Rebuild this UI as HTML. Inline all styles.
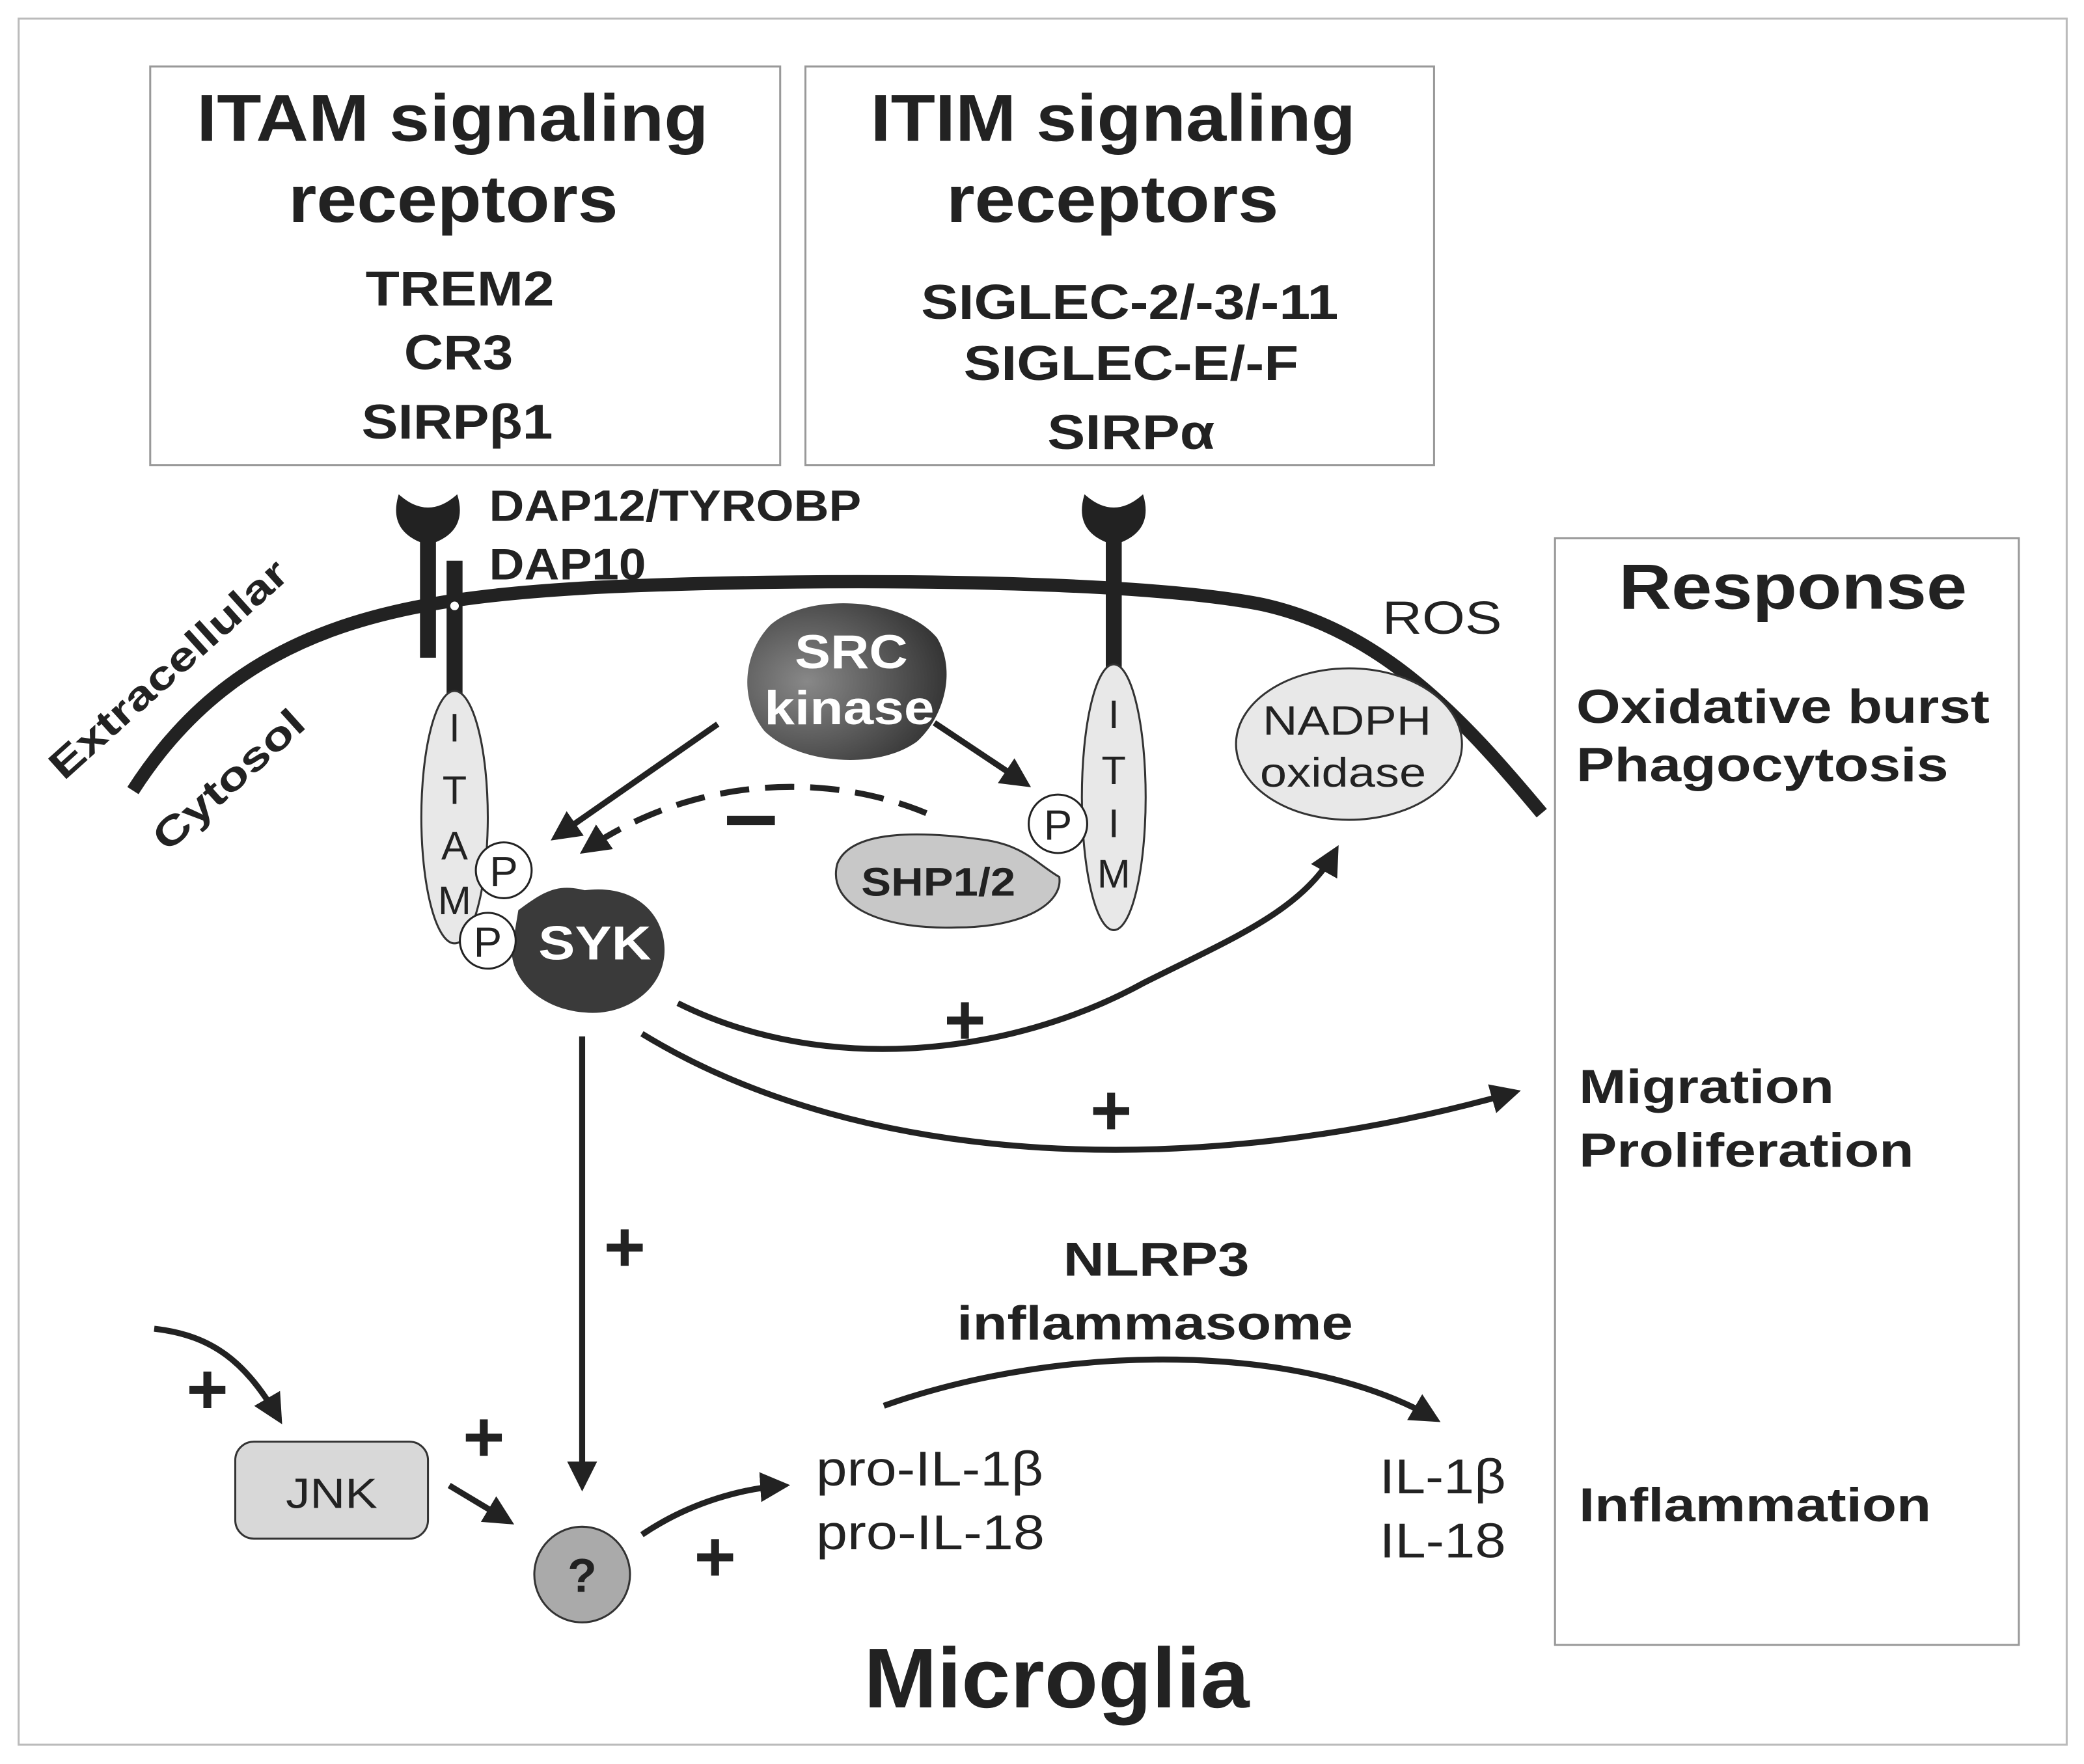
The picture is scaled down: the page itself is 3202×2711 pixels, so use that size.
<!DOCTYPE html>
<html><head><meta charset="utf-8"><style>html,body{margin:0;padding:0;background:#fff}svg{display:block}text{font-family:"Liberation Sans",sans-serif;fill:#222}</style></head><body>
<svg width="3202" height="2711" viewBox="0 0 1568 1327.6" xmlns="http://www.w3.org/2000/svg">
<defs>
<marker id="a" viewBox="0 0 10 10" refX="8" refY="5" markerWidth="5" markerHeight="5" orient="auto"><path d="M0,0 L10,5 L0,10 z" fill="#222"/></marker>
<radialGradient id="g" cx="0.3" cy="0.5" r="0.8"><stop offset="0" stop-color="#888"/><stop offset="1" stop-color="#2a2a2a"/></radialGradient>
</defs>
<rect x="14" y="14" width="1541" height="1299" fill="#fff" stroke="#bbb" stroke-width="1.5"/>
<rect x="113" y="50" width="474" height="300" fill="#fff" stroke="#999" stroke-width="1.5"/>
<rect x="606" y="50" width="473" height="300" fill="#fff" stroke="#999" stroke-width="1.5"/>
<rect x="1170" y="405" width="349" height="833" fill="#fff" stroke="#999" stroke-width="1.5"/>
<g font-weight="bold">
<text x="148" y="106" font-size="50" textLength="385" lengthAdjust="spacingAndGlyphs">ITAM signaling</text>
<text x="217" y="167" font-size="50" textLength="248" lengthAdjust="spacingAndGlyphs">receptors</text>
<text x="275" y="230" font-size="37" textLength="142" lengthAdjust="spacingAndGlyphs">TREM2</text>
<text x="304" y="278" font-size="37" textLength="82" lengthAdjust="spacingAndGlyphs">CR3</text>
<text x="272" y="330" font-size="37" textLength="144" lengthAdjust="spacingAndGlyphs">SIRPβ1</text>
<text x="655" y="106" font-size="50" textLength="365" lengthAdjust="spacingAndGlyphs">ITIM signaling</text>
<text x="712" y="167" font-size="50" textLength="250" lengthAdjust="spacingAndGlyphs">receptors</text>
<text x="693" y="240" font-size="37" textLength="314" lengthAdjust="spacingAndGlyphs">SIGLEC-2/-3/-11</text>
<text x="725" y="286" font-size="37" textLength="252" lengthAdjust="spacingAndGlyphs">SIGLEC-E/-F</text>
<text x="788" y="338" font-size="37" textLength="126" lengthAdjust="spacingAndGlyphs">SIRPα</text>
<text x="1218" y="458" font-size="48" textLength="262" lengthAdjust="spacingAndGlyphs">Response</text>
<text x="1186" y="544" font-size="36" textLength="311" lengthAdjust="spacingAndGlyphs">Oxidative burst</text>
<text x="1186" y="588" font-size="36" textLength="280" lengthAdjust="spacingAndGlyphs">Phagocytosis</text>
<text x="1188" y="830" font-size="36" textLength="192" lengthAdjust="spacingAndGlyphs">Migration</text>
<text x="1188" y="878" font-size="36" textLength="252" lengthAdjust="spacingAndGlyphs">Proliferation</text>
<text x="1188" y="1145" font-size="36" textLength="265" lengthAdjust="spacingAndGlyphs">Inflammation</text>
<text x="650" y="1285" font-size="64" textLength="290" lengthAdjust="spacingAndGlyphs">Microglia</text>
<text x="368" y="392" font-size="33" textLength="280" lengthAdjust="spacingAndGlyphs">DAP12/TYROBP</text>
<text x="368" y="436" font-size="33" textLength="118" lengthAdjust="spacingAndGlyphs">DAP10</text>
<text x="800" y="960" font-size="36" textLength="140" lengthAdjust="spacingAndGlyphs">NLRP3</text>
<text x="720" y="1008" font-size="36" textLength="298" lengthAdjust="spacingAndGlyphs">inflammasome</text>
</g>
<!-- membrane -->
<path d="M100,595 C180,470 300,450 450,442 C600,435 850,435 950,455 C1040,475 1100,540 1160,612" fill="none" stroke="#222" stroke-width="10"/>
<text transform="translate(48,588) rotate(-42)" font-size="30" font-weight="bold" textLength="230" lengthAdjust="spacingAndGlyphs">Extracellular</text>
<text transform="translate(126,642) rotate(-42)" font-size="30" font-weight="bold" textLength="142" lengthAdjust="spacingAndGlyphs">Cytosol</text>
<!-- ITAM receptor -->
<path d="M300,372 Q322,392 344,372 Q352,398 328,408 L316,408 Q292,398 300,372z" fill="#222"/>
<rect x="316" y="400" width="12" height="95" fill="#222"/>
<rect x="336" y="422" width="12" height="105" fill="#222"/>
<circle cx="342" cy="456" r="4" fill="#fff" stroke="#222" stroke-width="1.5"/>
<ellipse cx="342" cy="615" rx="25" ry="95" fill="#e8e8e8" stroke="#333" stroke-width="1.5"/>
<g font-size="30" text-anchor="middle"><text x="342" y="558">I</text><text x="342" y="605">T</text><text x="342" y="647">A</text><text x="342" y="688">M</text></g>
<!-- ITIM receptor -->
<path d="M816,372 Q838,392 860,372 Q868,398 844,408 L832,408 Q808,398 816,372z" fill="#222"/>
<rect x="832" y="400" width="12" height="108" fill="#222"/>
<ellipse cx="838" cy="600" rx="24" ry="100" fill="#e8e8e8" stroke="#333" stroke-width="1.5"/>
<g font-size="30" text-anchor="middle"><text x="838" y="548">I</text><text x="838" y="590">T</text><text x="838" y="630">I</text><text x="838" y="668">M</text></g>
<!-- SRC -->
<path d="M580,470 C610,445 680,450 705,480 C720,505 710,540 690,558 C660,580 600,575 575,550 C555,525 560,490 580,470z" fill="url(#g)"/>
<text x="598" y="503" font-size="36" font-weight="bold" textLength="85" lengthAdjust="spacingAndGlyphs" style="fill:#fff">SRC</text>
<text x="575" y="545" font-size="36" font-weight="bold" textLength="128" lengthAdjust="spacingAndGlyphs" style="fill:#fff">kinase</text>
<!-- SHP -->
<path d="M630,650 C640,625 690,625 740,632 C770,636 780,650 797,660 C800,680 770,698 720,698 C660,700 622,680 630,650z" fill="#c8c8c8" stroke="#333" stroke-width="1.5"/>
<text x="648" y="674" font-size="30" font-weight="bold" textLength="116" lengthAdjust="spacingAndGlyphs">SHP1/2</text>
<!-- SYK -->
<path d="M390,685 C410,670 420,665 440,670 C480,665 500,690 500,715 C500,745 470,765 440,762 C410,760 385,740 385,715z" fill="#3a3a3a"/>
<text x="405" y="722" font-size="36" font-weight="bold" textLength="85" lengthAdjust="spacingAndGlyphs" style="fill:#fff">SYK</text>
<g fill="#fff" stroke="#222" stroke-width="1.5"><circle cx="379" cy="655" r="21"/><circle cx="367" cy="708" r="21"/><circle cx="796" cy="620" r="22"/></g>
<g font-size="32" text-anchor="middle"><text x="379" y="667">P</text><text x="367" y="720">P</text><text x="796" y="632">P</text></g>
<!-- arrows -->
<g fill="none" stroke="#222" stroke-width="4.5" marker-end="url(#a)">
<line x1="540" y1="545" x2="418" y2="630"/>
<line x1="703" y1="544" x2="772" y2="590"/>
<path d="M697,612 C620,580 520,585 440,640" stroke-dasharray="22,12"/>
<path d="M510,755 C620,810 760,795 860,740 C930,705 980,685 1005,640"/>
<path d="M483,778 C650,880 900,890 1140,822"/>
<line x1="438" y1="780" x2="438" y2="1118"/>
<path d="M116,1000 C160,1005 185,1025 210,1068"/>
<line x1="338" y1="1118" x2="383" y2="1145"/>
<path d="M483,1155 C520,1130 560,1120 590,1118"/>
<path d="M665,1058 C800,1010 980,1010 1080,1068"/>
</g>
<rect x="547" y="614" width="36" height="7" fill="#222"/>
<g font-size="54" font-weight="bold" text-anchor="middle">
<text x="726" y="786">+</text><text x="836" y="854">+</text><text x="470" y="957">+</text>
<text x="156" y="1064">+</text><text x="364" y="1100">+</text><text x="538" y="1190">+</text>
</g>
<!-- NADPH -->
<ellipse cx="1015" cy="560" rx="85" ry="57" fill="#e8e8e8" stroke="#333" stroke-width="1.5"/>
<text x="950" y="553" font-size="31" textLength="127" lengthAdjust="spacingAndGlyphs">NADPH</text>
<text x="948" y="592" font-size="31" textLength="125" lengthAdjust="spacingAndGlyphs">oxidase</text>
<text x="1040" y="477" font-size="35" textLength="90" lengthAdjust="spacingAndGlyphs">ROS</text>
<!-- JNK -->
<rect x="177" y="1085" width="145" height="73" rx="14" fill="#d8d8d8" stroke="#333" stroke-width="1.5"/>
<text x="215" y="1135" font-size="32" textLength="69" lengthAdjust="spacingAndGlyphs">JNK</text>
<circle cx="438" cy="1185" r="36" fill="#aaa" stroke="#333" stroke-width="1.5"/>
<text x="438" y="1198" font-size="36" font-weight="bold" text-anchor="middle">?</text>
<g font-size="37">
<text x="614" y="1118" textLength="171" lengthAdjust="spacingAndGlyphs">pro-IL-1β</text>
<text x="614" y="1166" textLength="172" lengthAdjust="spacingAndGlyphs">pro-IL-18</text>
<text x="1038" y="1124" textLength="95" lengthAdjust="spacingAndGlyphs">IL-1β</text>
<text x="1038" y="1172" textLength="95" lengthAdjust="spacingAndGlyphs">IL-18</text>
</g>
</svg>
</body></html>
